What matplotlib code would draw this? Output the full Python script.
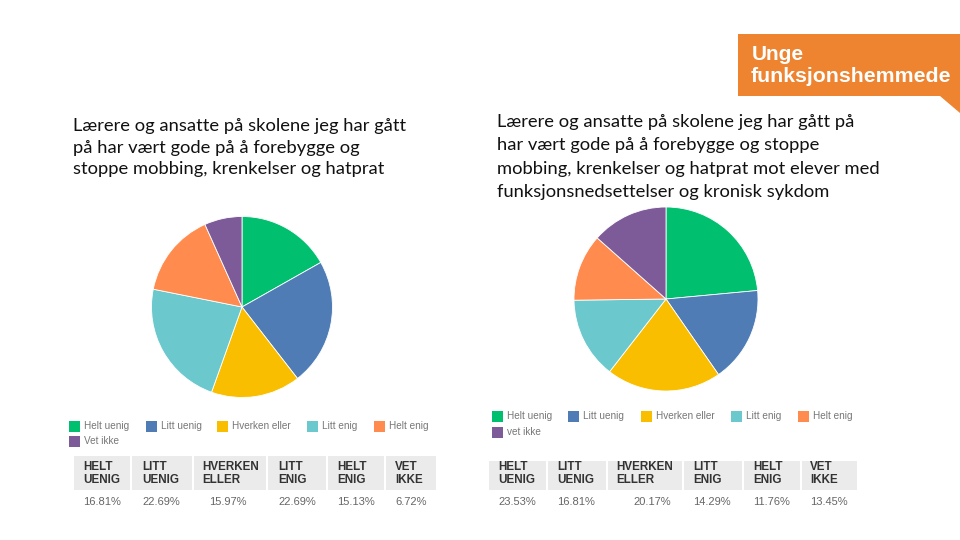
import matplotlib
matplotlib.use("Agg")
import matplotlib.pyplot as plt
from matplotlib.patches import Rectangle, Polygon

# ---- data ----
categories = ["Helt uenig", "Litt uenig", "Hverken eller", "Litt enig", "Helt enig", "Vet ikke"]
legend_left = ["Helt uenig", "Litt uenig", "Hverken eller", "Litt enig", "Helt enig", "Vet ikke"]
legend_right = ["Helt uenig", "Litt uenig", "Hverken eller", "Litt enig", "Helt enig", "vet ikke"]
headers = ["HELT\nUENIG", "LITT\nUENIG", "HVERKEN\nELLER", "LITT\nENIG", "HELT\nENIG", "VET\nIKKE"]
values_left = [16.81, 22.69, 15.97, 22.69, 15.13, 6.72]
values_right = [23.53, 16.81, 20.17, 14.29, 11.76, 13.45]
title_left = "Lærere og ansatte på skolene jeg har gått\npå har vært gode på å forebygge og\nstoppe mobbing, krenkelser og hatprat"
title_right = ("Lærere og ansatte på skolene jeg har gått på\nhar vært gode på å forebygge og stoppe\n"
               "mobbing, krenkelser og hatprat mot elever med\nfunksjonsnedsettelser og kronisk sykdom")
colors = ["#00BF6F", "#507CB6", "#F9BE00", "#6BC8CD", "#FF8B4F", "#7D5B99"]

W, H = 960, 540
fig = plt.figure(figsize=(9.6, 5.4), dpi=100)
bg = fig.add_axes([0, 0, 1, 1])
bg.set_xlim(0, W)
bg.set_ylim(H, 0)
bg.axis("off")

title_font = ["Lato", "DejaVu Sans"]
bg.text(73, 118, title_left, fontsize=13.2, family=title_font, color="#111111",
        va="top", ha="left", linespacing=1.43)
bg.text(497, 114, title_right, fontsize=13.2, family=title_font, color="#111111",
        va="top", ha="left", linespacing=1.56)

# logo
bg.add_patch(Polygon([(738, 34), (960, 34), (960, 113), (940, 96), (738, 96)],
                     closed=True, facecolor="#EE8330", edgecolor="none"))
bg.text(752, 55, "Unge", fontsize=15, family=["Liberation Sans", "DejaVu Sans"],
        fontweight="bold", color="white", va="center", ha="left")
bg.text(751, 76, "funksjonshemmede", fontsize=15.3, family=["Liberation Sans", "DejaVu Sans"],
        fontweight="bold", color="white", va="center", ha="left")

def draw_pie(cx, cy, r, vals):
    ax = fig.add_axes([(cx - r) / W, (H - cy - r) / H, 2 * r / W, 2 * r / H])
    ax.pie(vals, colors=colors, startangle=90, counterclock=False,
           wedgeprops=dict(edgecolor="white", linewidth=0.6))
    ax.set_xlim(-1, 1)
    ax.set_ylim(-1, 1)
    ax.axis("off")

draw_pie(242, 307, 90.5, values_left)
draw_pie(666, 299, 92, values_right)

def draw_legend(x_positions, y_rows, labels):
    for i, lab in enumerate(labels):
        if i < 5:
            x, y = x_positions[i], y_rows[0]
        else:
            x, y = x_positions[0], y_rows[1]
        bg.add_patch(Rectangle((x, y - 5.5), 11, 11, facecolor=colors[i], edgecolor="none"))
        bg.text(x + 15, y, lab, fontsize=7.2, family=["Liberation Sans", "DejaVu Sans"],
                color="#777777", va="center", ha="left")

draw_legend([69, 146, 217, 307, 374], [426, 441], legend_left)
draw_legend([492, 568, 641, 731, 798], [416, 432], legend_right)

def draw_table(edges, top, bottom, text_x, val_x, vals):
    for i in range(6):
        x0, x1 = edges[i], edges[i + 1]
        bg.add_patch(Rectangle((x0 + 1, top), x1 - x0 - 2, bottom - top,
                               facecolor="#EBEBEB", edgecolor="none"))
        bg.text(text_x[i], 473.5, headers[i], fontsize=8.4, fontweight="bold",
                family=["Liberation Sans", "DejaVu Sans"], color="#333333",
                va="center", ha="left", linespacing=1.2)
        bg.text(val_x[i], 502, f"{vals[i]:.2f}%", fontsize=8.0,
                family=["Liberation Sans", "DejaVu Sans"], color="#666666",
                va="center", ha="left")

draw_table([73, 131, 192.5, 267, 326.5, 385, 437], 456, 490,
           [83, 142, 202, 278, 337, 395], [83, 142, 209, 278, 337, 395], values_left)
draw_table([488, 547, 607, 683, 743, 801, 858], 461, 490,
           [498, 557, 616, 693, 753, 810], [498, 557, 633, 693, 753, 810], values_right)

fig.savefig("out.png", dpi=100, facecolor="white")
